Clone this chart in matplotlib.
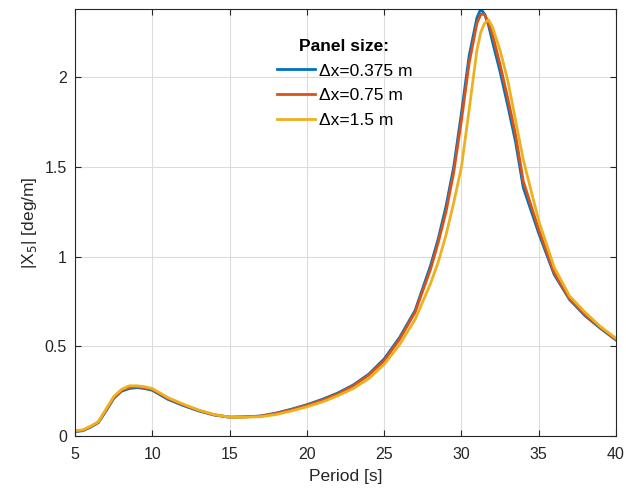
import numpy as np
import matplotlib
matplotlib.use("Agg")
import matplotlib.pyplot as plt

plt.rcParams["font.family"] = ["Liberation Sans", "DejaVu Sans"]

period = [5, 5.5, 6, 6.5, 7, 7.5, 8, 8.5, 9, 9.5, 10, 11, 12, 13, 14, 15, 16, 17, 18,
          19, 20, 21, 22, 23, 24, 25, 26, 27, 28, 28.5, 29, 29.5, 30, 30.5, 31, 31.25,
          31.5, 31.75, 32, 32.5, 33, 33.5, 34, 35, 36, 37, 38, 39, 40]

x5_0375 = [0.025, 0.03, 0.05, 0.075, 0.14, 0.21, 0.25, 0.265, 0.27, 0.265, 0.255, 0.205,
           0.17, 0.14, 0.117, 0.105, 0.107, 0.112, 0.128, 0.15, 0.175, 0.205, 0.24, 0.285,
           0.345, 0.43, 0.55, 0.7, 0.95, 1.1, 1.28, 1.5, 1.8, 2.12, 2.33, 2.38,
           2.35, 2.29, 2.2, 2.03, 1.84, 1.64, 1.385, 1.13, 0.9, 0.76, 0.67, 0.6, 0.535]

x5_075 = [0.027, 0.032, 0.052, 0.078, 0.145, 0.215, 0.255, 0.272, 0.275, 0.27, 0.26, 0.21,
          0.174, 0.143, 0.119, 0.106, 0.107, 0.111, 0.126, 0.147, 0.172, 0.2, 0.235, 0.28,
          0.34, 0.42, 0.54, 0.69, 0.93, 1.08, 1.25, 1.47, 1.76, 2.08, 2.3, 2.35,
          2.35, 2.3, 2.24, 2.07, 1.88, 1.68, 1.42, 1.15, 0.91, 0.765, 0.675, 0.605, 0.538]

x5_15 = [0.03, 0.035, 0.055, 0.08, 0.15, 0.22, 0.26, 0.28, 0.28, 0.275, 0.265, 0.215,
         0.178, 0.145, 0.12, 0.105, 0.105, 0.108, 0.12, 0.14, 0.163, 0.19, 0.225, 0.265,
         0.32, 0.4, 0.51, 0.65, 0.85, 0.97, 1.12, 1.3, 1.5, 1.82, 2.15, 2.25,
         2.3, 2.32, 2.28, 2.15, 1.98, 1.76, 1.54, 1.2, 0.94, 0.78, 0.69, 0.61, 0.545]

labels = ["Δx=0.375 m", "Δx=0.75 m", "Δx=1.5 m"]
colors = ["#0072BD", "#D95319", "#EDB120"]

fig = plt.figure(figsize=(6.26, 4.95), dpi=100)
ax = fig.add_axes([0.12, 0.119, 0.864, 0.863])

for y, lab, c in zip([x5_0375, x5_075, x5_15], labels, colors):
    ax.plot(period, y, color=c, lw=2, label=lab)

ax.set_xlim(5, 40)
ax.set_ylim(0, 2.38)
ax.set_xticks(np.arange(5, 41, 5))
ax.set_yticks([0, 0.5, 1, 1.5, 2])
ax.set_yticklabels(["0", "0.5", "1", "1.5", "2"])
ax.grid(True, color="#dcdcdc", lw=0.8)
ax.set_axisbelow(True)
ax.tick_params(direction="in", top=True, right=True, labelsize=11.5, length=4,
               colors="#262626")
ax.tick_params(axis="x", pad=8)
ax.tick_params(axis="y", pad=6)
for s in ax.spines.values():
    s.set_color("#262626")
    s.set_linewidth(0.8)
ax.set_xlabel("Period [s]", fontsize=12.5, color="#262626", labelpad=5)
ax.set_ylabel("|X$_5$| [deg/m]", fontsize=12.5, color="#262626")

leg = ax.legend(loc="upper left", bbox_to_anchor=(0.373, 0.93), frameon=False,
                title="Panel size:", fontsize=12.5, handlelength=2.2,
                handletextpad=0.2, labelspacing=0.55, borderaxespad=0, borderpad=0)
leg.get_title().set_fontweight("bold")
leg.get_title().set_fontsize(12.5)

fig.savefig("out.png", dpi=100)
